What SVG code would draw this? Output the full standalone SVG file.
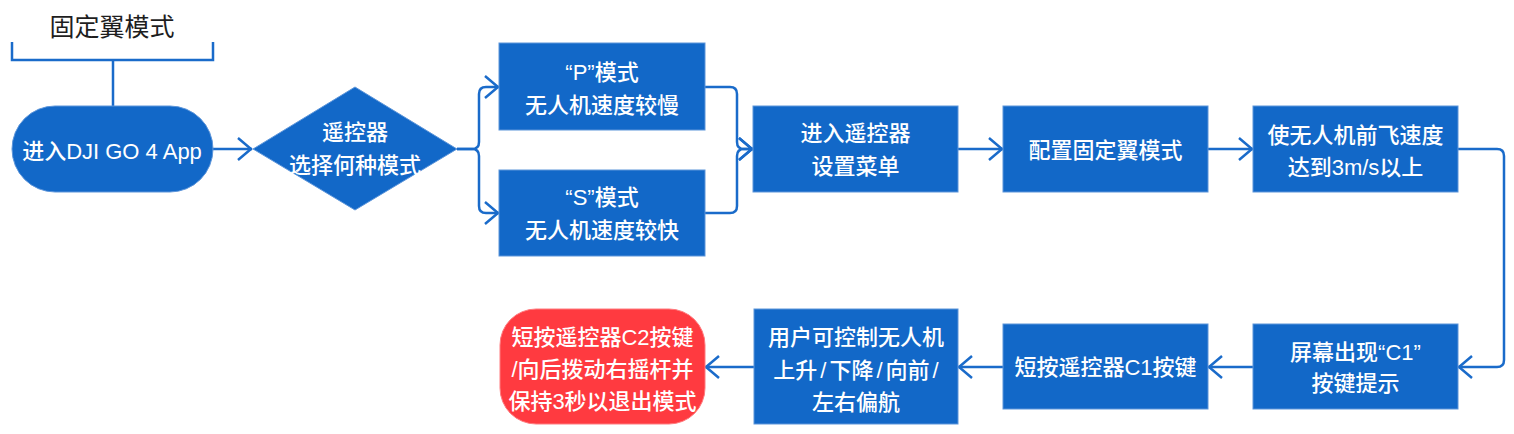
<svg xmlns="http://www.w3.org/2000/svg" width="1514" height="434" viewBox="0 0 1514 434">
<style>
.node{fill:#1268C8;stroke:#5C95DA;stroke-width:1}
.red{fill:#FF3A40;stroke:#FF7A7E;stroke-width:1}
.t{font-family:"Liberation Sans","Noto Sans CJK SC",sans-serif;font-size:22px;fill:#FFFFFF;text-anchor:middle;font-weight:500}
.title{font-family:"Liberation Sans","Noto Sans CJK SC",sans-serif;font-size:25px;fill:#1E1E1E;text-anchor:middle;font-weight:normal}
.c{fill:none;stroke:#1A6BCA;stroke-width:2.5}
</style>
<defs>
<marker id="arr" markerUnits="userSpaceOnUse" viewBox="-16 -13 18 26" markerWidth="18" markerHeight="26" refX="0" refY="0" orient="auto" overflow="visible">
<path d="M-14,-11 L-1,0 L-14,11" fill="none" stroke="#1A6BCA" stroke-width="2.5"/>
</marker>
</defs>
<g id="title">
<text class="title" x="112" y="36">固定翼模式</text>
<path class="c" d="M12,42 L12,60 L213,60 L213,42 M113,60 L113,106"/>
</g>
<g id="connectors">
<path class="c" d="M213,149 L252,149" marker-end="url(#arr)"/>
<path class="c" d="M457,149 L472,149 Q479,149 479,142 L479,94 Q479,87 486,87 L499,87" marker-end="url(#arr)"/>
<path class="c" d="M457,149 L472,149 Q479,149 479,156 L479,206 Q479,213 486,213 L499,213" marker-end="url(#arr)"/>
<path class="c" d="M705,87 L730,87 Q737,87 737,94 L737,142 Q737,149 744,149 L753,149" marker-end="url(#arr)"/>
<path class="c" d="M705,213 L730,213 Q737,213 737,206 L737,156 Q737,149 744,149 L753,149" marker-end="url(#arr)"/>
<path class="c" d="M958,149 L1003,149" marker-end="url(#arr)"/>
<path class="c" d="M1208,149 L1253,149" marker-end="url(#arr)"/>
<path class="c" d="M1458,149 L1497,149 Q1504,149 1504,156 L1504,360 Q1504,367 1497,367 L1458,367" marker-end="url(#arr)"/>
<path class="c" d="M1253,367 L1208,367" marker-end="url(#arr)"/>
<path class="c" d="M1003,367 L958,367" marker-end="url(#arr)"/>
<path class="c" d="M754,367 L705,367" marker-end="url(#arr)"/>
</g>
<g id="start">
<rect class="node" x="12" y="106" width="201" height="86" rx="43" ry="43"/>
<text class="t" x="112" y="159">进入DJI GO 4 App</text>
</g>
<g id="decision">
<polygon class="node" points="253,149 355,87 457,149 355,210"/>
<text class="t" x="355" y="140">遥控器</text>
<text class="t" x="355" y="173">选择何种模式</text>
</g>
<g id="p-mode">
<rect class="node" x="499" y="43" width="206" height="87"/>
<text class="t" x="602" y="80">“P”模式</text>
<text class="t" x="602" y="113">无人机速度较慢</text>
</g>
<g id="s-mode">
<rect class="node" x="499" y="170" width="206" height="86"/>
<text class="t" x="602" y="205">“S”模式</text>
<text class="t" x="602" y="238">无人机速度较快</text>
</g>
<g id="menu">
<rect class="node" x="753" y="106" width="205" height="86"/>
<text class="t" x="855.5" y="141">进入遥控器</text>
<text class="t" x="855.5" y="174">设置菜单</text>
</g>
<g id="config">
<rect class="node" x="1003" y="106" width="205" height="86"/>
<text class="t" x="1105.5" y="158">配置固定翼模式</text>
</g>
<g id="speed">
<rect class="node" x="1253" y="106" width="205" height="86"/>
<text class="t" x="1355.5" y="143">使无人机前飞速度</text>
<text class="t" x="1355.5" y="175">达到3m/s以上</text>
</g>
<g id="c1-prompt">
<rect class="node" x="1253" y="324" width="205" height="85"/>
<text class="t" x="1355.5" y="360">屏幕出现“C1”</text>
<text class="t" x="1355.5" y="391">按键提示</text>
</g>
<g id="c1-press">
<rect class="node" x="1003" y="324" width="205" height="85"/>
<text class="t" x="1105.5" y="375">短按遥控器C1按键</text>
</g>
<g id="control">
<rect class="node" x="754" y="309" width="204" height="115"/>
<text class="t" x="856" y="345">用户可控制无人机</text>
<text class="t" x="856" y="378">上升<tspan dx="3">/</tspan><tspan dx="3">下降</tspan><tspan dx="3">/</tspan><tspan dx="3">向前</tspan><tspan dx="3">/</tspan></text>
<text class="t" x="856" y="410">左右偏航</text>
</g>
<g id="exit">
<rect class="red" x="500" y="309" width="205" height="115" rx="36" ry="36"/>
<text class="t" x="602.5" y="345">短按遥控器C2按键</text>
<text class="t" x="602.5" y="377">/向后拨动右摇杆并</text>
<text class="t" x="602.5" y="409">保持3秒以退出模式</text>
</g>
</svg>
